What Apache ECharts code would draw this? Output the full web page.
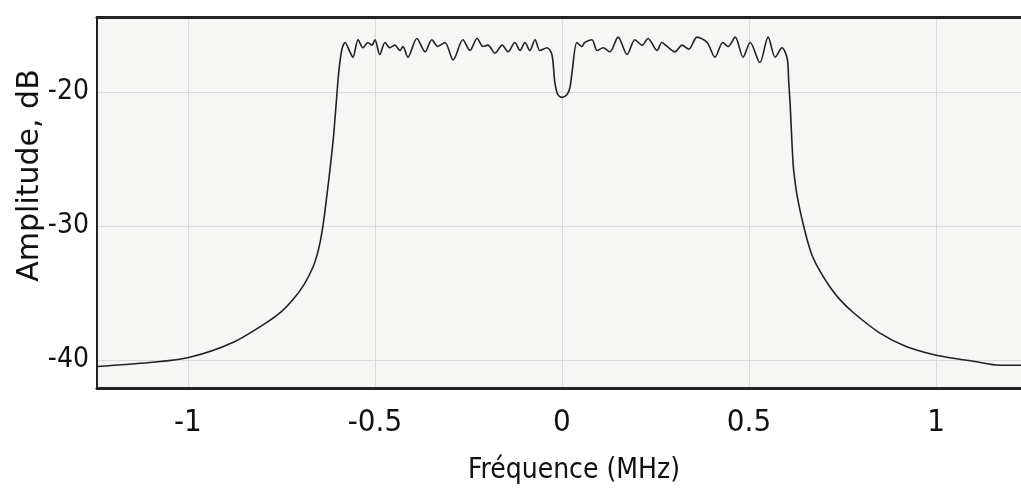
<!DOCTYPE html>
<html>
<head>
<meta charset="utf-8">
<title>Spectre</title>
<script src="https://cdn.jsdelivr.net/npm/echarts@6/dist/echarts.min.js"></script>
<style>
  html, body { margin: 0; padding: 0; background: #fff; }
  #chart { width: 1021px; height: 500px; }
</style>
</head>
<body>
<div id="chart"></div>
<script>
// valeurs (MHz / dB)
const freqMHz = [
  -1.243, -1.102, -0.995, -0.880, -0.789, -0.750, -0.719, -0.690, -0.666, -0.655,
  -0.645, -0.636, -0.628, -0.619, -0.611, -0.604, -0.597, -0.589, -0.580, -0.567,
  -0.559, -0.545, -0.532, -0.519, -0.508, -0.500, -0.487, -0.473, -0.460, -0.447,
  -0.433, -0.425, -0.412, -0.388, -0.366, -0.348, -0.332, -0.313, -0.291, -0.265,
  -0.246, -0.227, -0.211, -0.198, -0.179, -0.160, -0.144, -0.126, -0.112, -0.099,
  -0.086, -0.072, -0.059, -0.040, -0.027, -0.019, -0.011, 0.000, 0.013, 0.021,
  0.027, 0.040, 0.053, 0.061, 0.080, 0.094, 0.110, 0.128, 0.150, 0.174,
  0.195, 0.214, 0.230, 0.254, 0.267, 0.281, 0.302, 0.321, 0.339, 0.361,
  0.388, 0.409, 0.430, 0.444, 0.463, 0.484, 0.503, 0.529, 0.551, 0.570,
  0.588, 0.602, 0.606, 0.610, 0.618, 0.626, 0.636, 0.646, 0.657, 0.670,
  0.690, 0.715, 0.743, 0.780, 0.850, 0.920, 0.992, 1.050, 1.099, 1.171,
  1.227
]
const amplitudeDb = [
  -40.5, -40.2, -39.8, -38.7, -37.2, -36.4, -35.5, -34.4, -33.1, -32.2,
  -31.0, -29.4, -27.6, -25.5, -23.4, -21.0, -18.6, -16.9, -16.3, -17.0,
  -17.4, -16.1, -16.7, -16.3, -16.5, -16.1, -17.2, -16.3, -16.7, -16.5,
  -16.9, -16.6, -17.4, -16.0, -17.0, -16.1, -16.6, -16.3, -17.6, -16.1,
  -16.9, -16.0, -16.6, -16.5, -17.1, -16.5, -17.0, -16.3, -16.9, -16.3,
  -16.9, -16.1, -16.9, -16.7, -17.2, -19.3, -20.2, -20.4, -20.2, -19.7,
  -18.5, -16.3, -16.6, -16.3, -16.1, -16.9, -16.7, -17.0, -15.9, -17.2,
  -16.1, -16.5, -16.0, -16.9, -16.3, -16.6, -17.0, -16.5, -16.8, -15.9,
  -16.3, -17.4, -16.3, -16.6, -15.9, -17.4, -16.3, -17.8, -15.9, -17.4,
  -16.7, -17.5, -19.2, -21.0, -25.4, -27.3, -28.8, -30.0, -31.2, -32.3,
  -33.4, -34.5, -35.5, -36.5, -38.0, -39.0, -39.6, -39.9, -40.1, -40.4,
  -40.4
]
const xTicks = [-1, -0.5, 0, 0.5, 1]
const yTicks = [-40, -30, -20]

const narrow = '"Liberation Sans Narrow", "DejaVu Sans Condensed", sans-serif'
const gridColor = '#dadada'
const frameColor = '#222'

const chart = echarts.init(document.getElementById('chart'))

const option = {
  animation: false,
  backgroundColor: '#fff',
  grid: {
    left: 97,
    right: 0,
    top: 17,
    bottom: 112,
    outerBoundsMode: 'none',
    containLabel: false,
    show: true,
    borderWidth: 0,
    backgroundColor: '#f6f6f5'
  },
  xAxis: [
    {
      type: 'value',
      min: -1.243,
      max: 1.227,
      name: 'Fréquence (MHz)',
      nameLocation: 'middle',
      nameGap: 69,
      nameMoveOverlap: false,
      nameTextStyle: {
        fontFamily: narrow,
        fontSize: 28,
        color: '#111',
        padding: [0, 0, 0, 30]
      },
      axisLine: { show: true, onZero: false, lineStyle: { color: frameColor, width: 3 } },
      axisTick: { show: false, customValues: xTicks },
      axisLabel: {
        customValues: xTicks,
        margin: 19,
        fontFamily: narrow,
        fontSize: 31,
        color: '#111'
      },
      splitLine: { show: true, lineStyle: { color: gridColor, width: 1 } }
    },
    {
      // cadre du haut
      type: 'value',
      position: 'top',
      min: -1.243,
      max: 1.227,
      axisLine: { show: true, onZero: false, lineStyle: { color: frameColor, width: 3 } },
      axisTick: { show: false },
      axisLabel: { show: false },
      splitLine: { show: false }
    }
  ],
  yAxis: {
    type: 'value',
    min: -42.1,
    max: -14.4,
    name: 'Amplitude, dB',
    nameLocation: 'middle',
    nameGap: 52,
    nameMoveOverlap: false,
    nameTextStyle: {
      fontFamily: '"DejaVu Sans", sans-serif',
      fontSize: 30,
      color: '#111',
      padding: [0, 0, 0, 54]
    },
    axisLine: { show: true, onZero: false, lineStyle: { color: frameColor, width: 2 } },
    axisTick: { show: false, customValues: yTicks },
    axisLabel: {
      customValues: yTicks,
      margin: 8,
      fontFamily: narrow,
      fontSize: 28,
      color: '#111'
    },
    splitLine: { show: true, lineStyle: { color: gridColor, width: 1 } }
  },
  series: [{
    type: 'line',
    data: freqMHz.map((f, i) => [f, amplitudeDb[i]]),
    showSymbol: false,
    smooth: 0.3,
    lineStyle: { color: '#222', width: 1.6 }
  }]
}

chart.setOption(option)
</script>
</body>
</html>
